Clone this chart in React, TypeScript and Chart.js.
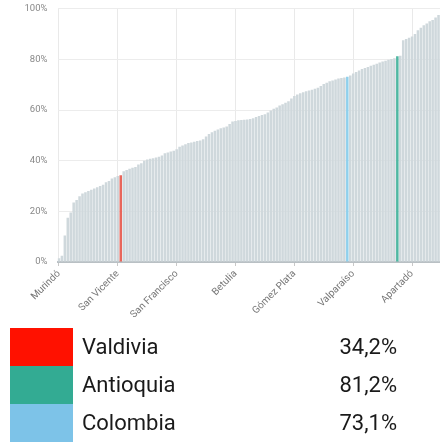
import React, { useEffect, useRef } from 'react';
import { Chart, registerables } from 'chart.js';

Chart.register(...registerables);

// Labelled positions (shown on the axis / highlighted)
const etiquetasFijas: [number, string][] = [
  [0, 'Murindó'],
  [20, 'San Vicente'],
  [21, 'Valdivia'],
  [40, 'San Francisco'],
  [60, 'Betulia'],
  [80, 'Gómez Plata'],
  [98, 'Colombia'],
  [100, 'Valparaíso'],
  [115, 'Antioquia'],
  [120, 'Apartadó'],
];

const otrosNombres = [
  'Abejorral', 'Abriaquí', 'Alejandría', 'Amagá', 'Amalfi', 'Andes', 'Angelópolis', 'Angostura', 'Anorí', 'Anzá',
  'Arboletes', 'Argelia', 'Armenia', 'Barbosa', 'Bello', 'Belmira', 'Betania', 'Briceño', 'Buriticá', 'Cáceres',
  'Caicedo', 'Caldas', 'Campamento', 'Cañasgordas', 'Caracolí', 'Caramanta', 'Carepa', 'Carolina del Príncipe', 'Caucasia', 'Chigorodó',
  'Cisneros', 'Ciudad Bolívar', 'Cocorná', 'Concepción', 'Concordia', 'Copacabana', 'Dabeiba', 'Donmatías', 'Ebéjico', 'El Bagre',
  'El Carmen de Viboral', 'El Peñol', 'El Retiro', 'El Santuario', 'Entrerríos', 'Envigado', 'Fredonia', 'Frontino', 'Giraldo', 'Girardota',
  'Granada', 'Guadalupe', 'Guarne', 'Guatapé', 'Heliconia', 'Hispania', 'Itagüí', 'Ituango', 'Jardín', 'Jericó',
  'La Ceja', 'La Estrella', 'La Pintada', 'La Unión', 'Liborina', 'Maceo', 'Marinilla', 'Medellín', 'Montebello', 'Mutatá',
  'Nariño', 'Nechí', 'Necoclí', 'Olaya', 'Peque', 'Pueblorrico', 'Puerto Berrío', 'Puerto Nare', 'Puerto Triunfo', 'Remedios',
  'Rionegro', 'Sabanalarga', 'Sabaneta', 'Salgar', 'San Andrés de Cuerquia', 'San Carlos', 'San Jerónimo', 'San José de la Montaña', 'San Juan de Urabá', 'San Luis',
  'San Pedro de los Milagros', 'San Pedro de Urabá', 'San Rafael', 'San Roque', 'Santa Bárbara', 'Santa Fe de Antioquia', 'Santa Rosa de Osos', 'Santo Domingo', 'Segovia', 'Sonsón',
  'Sopetrán', 'Támesis', 'Tarazá', 'Tarso', 'Titiribí', 'Toledo', 'Turbo', 'Uramita', 'Urrao', 'Vegachí',
  'Venecia', 'Vigía del Fuerte', 'Yalí', 'Yarumal', 'Yolombó', 'Yondó', 'Zaragoza', 'Valle de Aburrá', 'Oriente', 'Urabá',
];

// Values (%) sorted ascending, one per bar
const valores = [
  1.5, 2.5, 10.5, 17.5, 19.5, 23.5, 24.5, 26, 27, 27.5,
  28, 28.5, 29, 29.5, 30, 30.5, 31.5, 32, 33, 33.5,
  34, 34.2, 35.8, 36.3, 36.8, 37.2, 37.5, 38.5, 39, 40,
  40.5, 40.8, 41, 41.3, 41.6, 42, 42.9, 43.2, 43.6, 43.9,
  44.5, 45.5, 46, 46.5, 47, 47.2, 47.5, 47.8, 48, 48.5,
  49.5, 50.5, 51.2, 51.8, 52.3, 52.8, 53.1, 53.5, 54.5, 55.5,
  55.7, 56, 56.1, 56.2, 56.3, 56.5, 56.8, 57.2, 57.6, 58,
  58.3, 59, 59.8, 60.5, 61, 61.8, 62.3, 62.9, 63.5, 64.5,
  65.5, 66.1, 66.6, 67, 67.4, 67.7, 68, 68.4, 68.8, 69.5,
  70.3, 70.8, 71.4, 71.7, 72, 72.4, 72.6, 72.8, 73.1, 73.6,
  74.4, 75, 75.6, 76.2, 76.6, 77, 77.5, 77.9, 78.3, 78.8,
  79.2, 79.5, 79.8, 80.1, 80.4, 81.2, 81.4, 87.5, 88, 88.5,
  89, 90, 91.5, 92.5, 93.5, 94.2, 95, 95.5, 96.5, 97.5,
];

const tickCada = 20;
const yTicks = [0, 20, 40, 60, 80, 100];

const leyendaNombres = ['Valdivia', 'Antioquia', 'Colombia'];
const leyendaValores = ['34,2%', '81,2%', '73,1%'];
const leyendaColores = ['#ff1100', '#33ab93', '#7dc3e8'];
const barraColores: Record<string, string> = {
  Valdivia: '#e8665b',
  Antioquia: '#4fb7a2',
  Colombia: '#8fd0ec',
};
const colorGris = '#cfd8dc';

const municipios: string[] = (() => {
  const arr: string[] = new Array(valores.length).fill('');
  etiquetasFijas.forEach(([i, n]) => { arr[i] = n; });
  let k = 0;
  for (let i = 0; i < arr.length; i++) {
    if (!arr[i]) arr[i] = otrosNombres[k++];
  }
  return arr;
})();

export default function App() {
  const ref = useRef<HTMLCanvasElement | null>(null);

  useEffect(() => {
    if (!ref.current) return;
    const colores = municipios.map((m) => barraColores[m] || colorGris);
    const gridCol = (ctx: any) => (ctx.index % tickCada === 0 ? '#e9e9e9' : 'rgba(0,0,0,0)');
    const tickCol = (ctx: any) => (ctx.index % tickCada === 0 ? '#c8c8c8' : 'rgba(0,0,0,0)');
    const chart = new Chart(ref.current, {
      type: 'bar',
      data: {
        labels: municipios,
        datasets: [
          {
            data: valores,
            backgroundColor: colores,
            borderWidth: 0,
            barPercentage: 0.86,
            categoryPercentage: 1,
          },
        ],
      },
      options: {
        responsive: false,
        maintainAspectRatio: false,
        animation: false,
        layout: { padding: { top: 2, left: 0, right: 0, bottom: 0 } },
        plugins: { legend: { display: false }, tooltip: { enabled: false } },
        scales: {
          x: {
            grid: { offset: false, color: gridCol, tickColor: tickCol, drawTicks: true, tickLength: 4 },
            border: { display: true, color: '#b9c0c4', width: 2 },
            ticks: {
              autoSkip: false,
              maxRotation: 45,
              minRotation: 45,
              padding: 2,
              color: '#777',
              font: { family: 'Roboto', size: 10 },
              callback: (_v: any, i: number) => (i % tickCada === 0 ? municipios[i] : ''),
            },
            afterFit: (s: any) => { s.height = 72; s.paddingRight = 0; },
          },
          y: {
            min: 0,
            max: 100,
            afterBuildTicks: (s: any) => { s.ticks = yTicks.map((v) => ({ value: v })); },
            grid: { color: '#ececec', drawTicks: false },
            border: { display: false },
            ticks: {
              padding: 10,
              color: '#888',
              font: { family: 'Roboto', size: 9.5 },
              callback: (v: any) => v + '%',
            },
            afterFit: (s: any) => { s.width = 57.5; },
          },
        },
      },
    });
    return () => chart.destroy();
  }, []);

  const fila = 38;
  return (
    <div style={{ position: 'absolute', left: 0, top: 0, width: 440, height: 442, background: '#fff', overflow: 'hidden' }}>
      <canvas ref={ref} width={440} height={341} style={{ position: 'absolute', left: 0, top: -7, width: 440, height: 341 }} />
      {leyendaNombres.map((n, i) => (
        <div
          key={n}
          style={{
            position: 'absolute',
            left: 0,
            top: 328 + i * fila,
            width: 440,
            height: fila,
            fontFamily: 'Roboto',
            fontSize: 22,
            color: '#1a1a1a',
          }}
        >
          <div style={{ position: 'absolute', left: 10, top: 0, width: 63, height: fila, background: leyendaColores[i] }} />
          <div style={{ position: 'absolute', left: 82, top: 0, height: fila, lineHeight: fila + 'px' }}>{n}</div>
          <div style={{ position: 'absolute', right: 43, top: 0, height: fila, lineHeight: fila + 'px', textAlign: 'right' }}>
            {leyendaValores[i]}
          </div>
        </div>
      ))}
    </div>
  );
}
